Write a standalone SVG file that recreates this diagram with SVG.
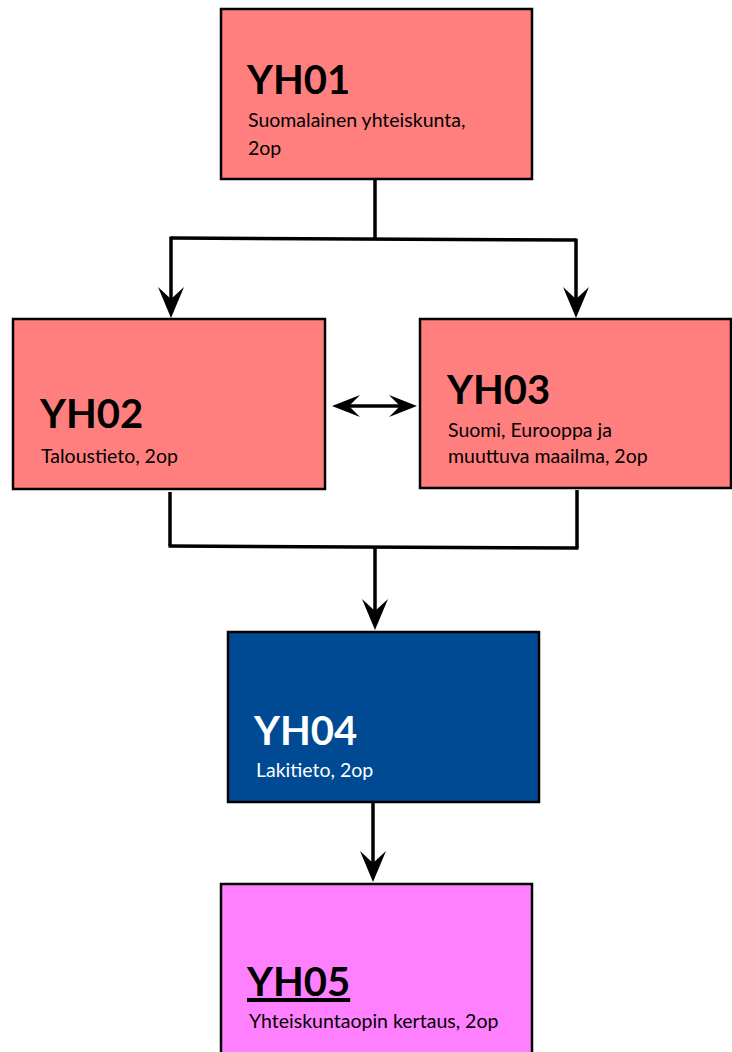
<svg xmlns="http://www.w3.org/2000/svg" width="732" height="1052" viewBox="0 0 732 1052">
<style>
.box{stroke:#000;stroke-width:2.5}
.pink{fill:#ff7f7f}
.blue{fill:#004a94}
.mag{fill:#ff80ff}
.t{font-family:Lato,"Open Sans",sans-serif;font-weight:bold;font-size:40px;fill:#000}
.s{font-family:Lato,"Open Sans",sans-serif;font-size:19.5px;fill:#000}
.w{fill:#fff}
.c{fill:none;stroke:#000;stroke-width:3.5}
</style>
<defs>
<marker id="ah" viewBox="-32 -14 33 28" refX="-8" refY="0" markerWidth="33" markerHeight="28" markerUnits="userSpaceOnUse" orient="auto">
<path d="M0,0 L-31,-13 L-19,0 L-31,13 Z" fill="#000"/>
</marker>
<marker id="ah2" viewBox="-29 -13 30 26" refX="-7" refY="0" markerWidth="30" markerHeight="26" markerUnits="userSpaceOnUse" orient="auto-start-reverse">
<path d="M0,0 L-28,-11 L-17,0 L-28,11 Z" fill="#000"/>
</marker>
</defs>
<g id="connectors">
<path class="c" d="M375,180 V238"/>
<path class="c" d="M171,238 L576,240"/>
<path class="c" d="M171,236.5 V310" marker-end="url(#ah)"/>
<path class="c" d="M576,238.5 V310" marker-end="url(#ah)"/>
<path class="c" d="M339,406 H410" marker-start="url(#ah2)" marker-end="url(#ah2)"/>
<path class="c" d="M170,492 V546"/>
<path class="c" d="M577,490 V548"/>
<path class="c" d="M168.5,546 L578.5,548"/>
<path class="c" d="M375,547 V622" marker-end="url(#ah)"/>
<path class="c" d="M373,803 V874" marker-end="url(#ah)"/>
</g>
<g id="YH01">
<rect class="box pink" x="221" y="9" width="311" height="170"/>
<text class="t" x="247" y="94">YH01</text>
<text class="s" x="248" y="127">Suomalainen yhteiskunta,</text>
<text class="s" x="248" y="155">2op</text>
</g>
<g id="YH02">
<rect class="box pink" x="13" y="319" width="312" height="170"/>
<text class="t" x="40" y="428">YH02</text>
<text class="s" x="41" y="463">Taloustieto, 2op</text>
</g>
<g id="YH03">
<rect class="box pink" x="420" y="319" width="311" height="169"/>
<text class="t" x="447" y="404">YH03</text>
<text class="s" x="448" y="437">Suomi, Eurooppa ja</text>
<text class="s" x="448" y="463">muuttuva maailma, 2op</text>
</g>
<g id="YH04">
<rect class="box blue" x="228" y="632" width="311" height="170"/>
<text class="t w" x="254" y="745">YH04</text>
<text class="s w" x="256" y="777">Lakitieto, 2op</text>
</g>
<g id="YH05">
<rect class="box mag" x="221" y="884" width="311" height="172"/>
<text class="t" x="247" y="996" text-decoration="underline">YH05</text>
<text class="s" x="249" y="1028">Yhteiskuntaopin kertaus, 2op</text>
</g>
</svg>
